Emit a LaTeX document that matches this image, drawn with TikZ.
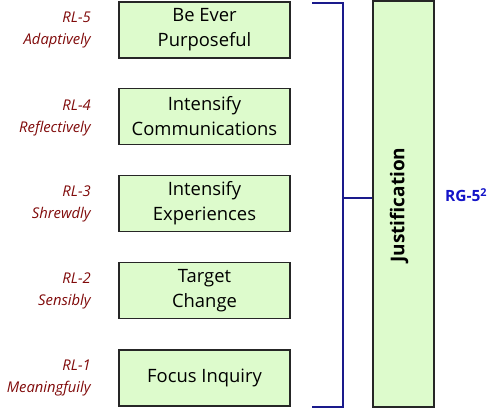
\documentclass[tikz,border=0pt]{standalone}
\usepackage{fontspec}
\setmainfont{Open Sans}
\definecolor{boxfill}{RGB}{221,251,204}
\definecolor{lblred}{RGB}{128,10,10}
\definecolor{navy}{RGB}{26,26,140}
\definecolor{rgblue}{RGB}{20,20,200}
\begin{document}
\begin{tikzpicture}[x=1pt,y=-1pt,
  stepbox/.style={draw=black!85,line width=1.3pt,fill=boxfill,minimum width=171pt,minimum height=56pt,
    align=center,inner sep=0pt,font=\fontsize{18.4}{25}\selectfont},
  lbl/.style={anchor=east,align=right,text=lblred,font=\fontsize{14.8}{22}\selectfont\itshape,inner sep=0pt},
  brk/.style={draw=navy,line width=2.8pt}]
\useasboundingbox (0,0) rectangle (490,413);
\node[stepbox] (b5) at (204.5,30) {Be Ever\\Purposeful};
\node[stepbox] (b4) at (204.5,116.5) {Intensify\\Communications};
\node[stepbox] (b3) at (204.5,203.5) {Intensify\\Experiences};
\node[stepbox] (b2) at (204.5,290.5) {Target\\Change};
\node[stepbox] (b1) at (204.5,378) {Focus Inquiry};
\node[lbl] (l5) at (91,30) {RL-5\\Adaptively};
\node[lbl] (l4) at (91,118) {RL-4\\Reflectively};
\node[lbl] (l3) at (91,204) {RL-3\\Shrewdly};
\node[lbl] (l2) at (91,291) {RL-2\\Sensibly};
\node[lbl] (l1) at (91,378) {RL-1\\Meaningfuily};
\node[draw=black!85,line width=1.3pt,fill=boxfill,minimum width=61pt,minimum height=406pt,inner sep=0pt] (j) at (403.5,204) {};
\node[rotate=90,font=\fontsize{19}{21}\selectfont\bfseries] (jt) at (399,205) {Justification};
\node[text=rgblue,font=\fontsize{15.5}{17}\selectfont\bfseries,anchor=west,inner sep=0pt] (rg) at (445,195) {RG-5\textsuperscript{2}};
\coordinate (tl) at (312,3);
\coordinate (tr) at (343,3);
\coordinate (bl) at (312,407);
\coordinate (br) at (343,407);
\coordinate (mid) at (343,198);
\draw[brk] (tl) -- (tr) -- (br) -- (bl);
\draw[brk] (mid) -- (mid -| j.west);
\end{tikzpicture}
\end{document}
